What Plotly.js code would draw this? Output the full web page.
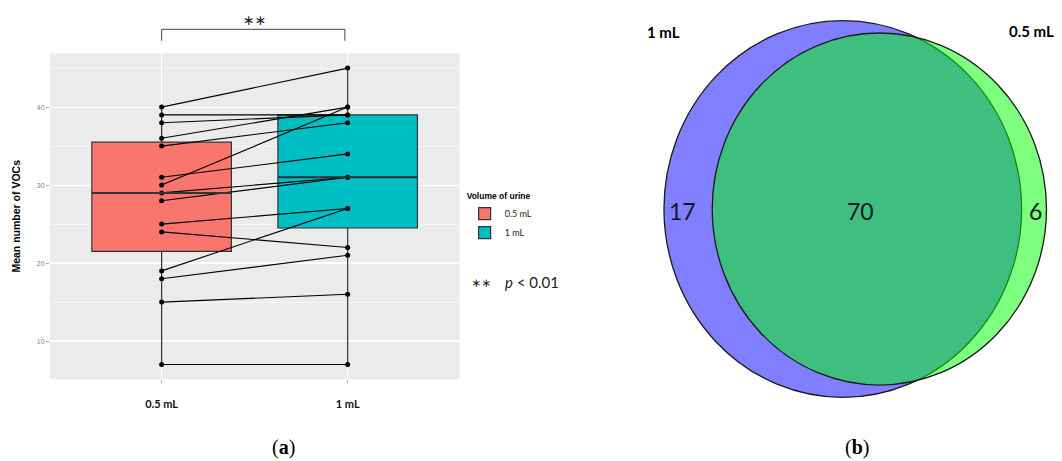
<!DOCTYPE html>
<html>
<head>
<meta charset="utf-8">
<script src="https://cdn.plot.ly/plotly-3.0.1.min.js"></script>
<style>
  html, body { margin: 0; padding: 0; background: #ffffff; }
  #chart { width: 1062px; height: 461px; }
</style>
</head>
<body>
<div id="chart"></div>
<script>
// ---------- data ----------
const categories = ['0.5 mL', '1 mL'];
// paired mean number of VOCs per sample (same index = same sample)
const vocs05 = [40, 39, 38, 36, 35, 31, 30, 29, 28, 25, 24, 19, 18, 15, 7];
const vocs1  = [45, 39, 39, 40, 38, 34, 40, 31, 31, 27, 22, 27, 21, 16, 7];
const yTicks = [10, 20, 30, 40];

// Venn: [only 1 mL, both, only 0.5 mL]
const vennSets = ['1 mL', '0.5 mL'];
const vennCounts = [17, 70, 6];

// ---------- styles ----------
const boxFill = ['#F8766D', '#00BFC4'];
const boxLine = '#333333';
const SANS = 'Liberation Sans, Arial, sans-serif';
const HUM = 'Lato, Open Sans, sans-serif';
const SERIF = 'Liberation Serif, DejaVu Serif, serif';
const DEJ = 'DejaVu Sans, sans-serif';

// ---------- box traces ----------
const series = [vocs05, vocs1];
const traces = series.map((vals, i) => ({
  type: 'box',
  name: categories[i],
  x: vals.map(() => categories[i]),
  y: vals,
  xaxis: 'x', yaxis: 'y',
  quartilemethod: 'inclusive',
  boxpoints: false,
  width: 0.75,
  whiskerwidth: 0,
  fillcolor: boxFill[i],
  line: { color: boxLine, width: 1.2 },
  hoverinfo: 'skip',
  showlegend: true
}));

// paired lines
const px = [], py = [];
vocs05.forEach((v, i) => {
  px.push(categories[0], categories[1], null);
  py.push(v, vocs1[i], null);
});
traces.push({
  type: 'scatter', mode: 'lines+markers',
  x: px, y: py, xaxis: 'x', yaxis: 'y',
  line: { color: '#000000', width: 1.1 },
  marker: { color: '#000000', size: 5 },
  connectgaps: false, hoverinfo: 'skip', showlegend: false
});

function median(arr) {
  const s = arr.slice().sort((a, b) => a - b);
  const n = s.length;
  return n % 2 ? s[(n - 1) / 2] : (s[n / 2 - 1] + s[n / 2]) / 2;
}

// ---------- Venn geometry (area proportional) ----------
const aOnly = vennCounts[0], aBoth = vennCounts[1], bOnly = vennCounts[2];
const r1 = Math.sqrt((aOnly + aBoth) / Math.PI);
const r2 = Math.sqrt((bOnly + aBoth) / Math.PI);
function lens(d) {
  if (d <= Math.abs(r1 - r2)) return Math.PI * Math.min(r1, r2) ** 2;
  if (d >= r1 + r2) return 0;
  const a1 = r1 * r1 * Math.acos((d * d + r1 * r1 - r2 * r2) / (2 * d * r1));
  const a2 = r2 * r2 * Math.acos((d * d + r2 * r2 - r1 * r1) / (2 * d * r2));
  const k = 0.5 * Math.sqrt((-d + r1 + r2) * (d + r1 - r2) * (d - r1 + r2) * (d + r1 + r2));
  return a1 + a2 - k;
}
let lo = Math.abs(r1 - r2), hi = r1 + r2;
for (let it = 0; it < 80; it++) {
  const mid = (lo + hi) / 2;
  if (lens(mid) > aBoth) lo = mid; else hi = mid;
}
const dist = (lo + hi) / 2;
const c1 = 0, c2 = dist;

const shapes = [
  // ggplot grey panel (only for the box plot subplot)
  { type: 'rect', xref: 'x domain', yref: 'y domain', x0: 0, x1: 1, y0: 0, y1: 1,
    fillcolor: '#EBEBEB', line: { width: 0 }, layer: 'below' },
  // Venn circles
  { type: 'circle', xref: 'x2', yref: 'y2', x0: c1 - r1, x1: c1 + r1, y0: -r1, y1: r1,
    fillcolor: 'rgba(0,0,255,0.5)', line: { color: '#1a1a1a', width: 1.3 }, layer: 'above' },
  { type: 'circle', xref: 'x2', yref: 'y2', x0: c2 - r2, x1: c2 + r2, y0: -r2, y1: r2,
    fillcolor: 'rgba(0,255,0,0.5)', line: { color: '#1a1a1a', width: 1.3 }, layer: 'above' },
  // significance bracket
  { type: 'line', xref: 'x', yref: 'paper', x0: 0, x1: 0.985, y0: 0.9364, y1: 0.9364,
    line: { color: '#444', width: 1 } },
  { type: 'line', xref: 'x', yref: 'paper', x0: 0, x1: 0, y0: 0.9364, y1: 0.9117,
    line: { color: '#444', width: 1 } },
  { type: 'line', xref: 'x', yref: 'paper', x0: 0.985, x1: 0.985, y0: 0.9364, y1: 0.9117,
    line: { color: '#444', width: 1 } }
];
// thicker median bars like ggplot
series.forEach((vals, i) => {
  const m = median(vals);
  shapes.push({ type: 'line', xref: 'x', yref: 'y', x0: i - 0.375, x1: i + 0.375, y0: m, y1: m,
    line: { color: '#333333', width: 2 }, layer: 'above' });
});

const vennFont = { family: HUM, size: 23, color: '#141428' };
function ann(o) { return Object.assign({ showarrow: false, xanchor: 'center', yanchor: 'middle' }, o); }
const annotations = [
  ann({ xref: 'x', yref: 'paper', x: 0.5, y: 0.957, text: '∗∗',
    font: { family: DEJ, size: 14, color: '#222' } }),
  ann({ xref: 'paper', yref: 'paper', x: 0.4525, y: 0.386, text: '∗∗',
    font: { family: DEJ, size: 12, color: '#222' } }),
  ann({ xref: 'paper', yref: 'paper', x: 0.4735, y: 0.389, xanchor: 'left', text: '<i>p</i> &lt; 0.01',
    font: { family: HUM, size: 15, color: '#222' } }),
  ann({ xref: 'paper', yref: 'paper', x: 0.2674, y: 1 - 447 / 461, text: '(<b>a</b>)',
    font: { family: SERIF, size: 20, color: '#000' } }),
  ann({ xref: 'paper', yref: 'paper', x: 0.8074, y: 1 - 447 / 461, text: '(<b>b</b>)',
    font: { family: SERIF, size: 20, color: '#000' } }),
  ann({ xref: 'paper', yref: 'paper', x: 663.5 / 1062, y: 1 - 32.3 / 461, text: '<b>' + vennSets[0] + '</b>',
    font: { family: HUM, size: 15, color: '#000' } }),
  ann({ xref: 'paper', yref: 'paper', x: 1031 / 1062, y: 1 - 31 / 461, text: '<b>' + vennSets[1] + '</b>',
    font: { family: HUM, size: 15, color: '#000' } }),
  ann({ xref: 'x2', yref: 'y2', x: ((c1 - r1) + (c2 - r2)) / 2, y: 0, xshift: -6, yshift: -2,
    text: String(aOnly), font: vennFont }),
  ann({ xref: 'x2', yref: 'y2', x: ((c2 - r2) + (c1 + r1)) / 2, y: 0, xshift: -6, yshift: -2,
    text: String(aBoth), font: vennFont }),
  ann({ xref: 'x2', yref: 'y2', x: ((c1 + r1) + (c2 + r2)) / 2, y: 0, xshift: 1, yshift: -2,
    text: String(bOnly), font: vennFont })
];

const layout = {
  width: 1062, height: 461,
  margin: { l: 0, r: 0, t: 0, b: 0 },
  paper_bgcolor: '#ffffff',
  plot_bgcolor: 'rgba(0,0,0,0)',
  boxmode: 'overlay',
  hovermode: false,
  xaxis: {
    domain: [0.04708, 0.43248],
    type: 'category', categoryorder: 'array', categoryarray: categories,
    range: [-0.6, 1.6],
    showgrid: true, gridcolor: '#ffffff', gridwidth: 1.2,
    zeroline: false, showline: false,
    ticks: 'outside', ticklen: 3, tickcolor: '#999', tickwidth: 0.8,
    ticklabelstandoff: 11,
    tickfont: { family: HUM, size: 11, color: '#111', weight: 'bold' }
  },
  yaxis: {
    domain: [0.17722, 0.88438],
    range: [5.1, 46.9],
    tickvals: yTicks,
    showgrid: true, gridcolor: '#ffffff', gridwidth: 1.2,
    minor: { dtick: 5, tick0: 0, showgrid: true, gridcolor: '#ffffff', gridwidth: 0.6, ticks: '' },
    zeroline: false, showline: false,
    ticks: 'outside', ticklen: 3, tickcolor: '#999', tickwidth: 0.8,
    tickfont: { family: SANS, size: 7, color: '#888' },
    title: { text: '<b>Mean number of VOCs</b>', standoff: 14,
             font: { family: SANS, size: 10.5, color: '#000' } }
  },
  xaxis2: {
    domain: [0.56497, 1], range: [-7.145, 6.451], anchor: 'y2',
    visible: false, showgrid: false, zeroline: false, fixedrange: true
  },
  yaxis2: {
    domain: [0, 1], range: [-7.041, 5.840], anchor: 'x2',
    visible: false, showgrid: false, zeroline: false, fixedrange: true
  },
  showlegend: true,
  legend: {
    x: 0.4375, y: 0.592, xanchor: 'left', yanchor: 'top',
    bgcolor: 'rgba(0,0,0,0)',
    title: { text: '<b>Volume of urine</b>', font: { family: SANS, size: 8.5, color: '#000' } },
    font: { family: HUM, size: 9, color: '#222' },
    itemwidth: 30, tracegroupgap: 0,
    traceorder: 'normal'
  },
  shapes: shapes,
  annotations: annotations
};

Plotly.newPlot('chart', traces, layout, { staticPlot: true, displayModeBar: false });
</script>
</body>
</html>
